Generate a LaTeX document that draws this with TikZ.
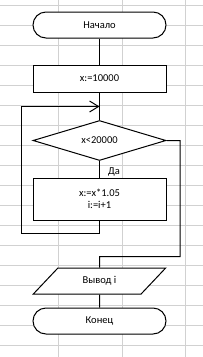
\documentclass[tikz,border=0pt]{standalone}
\usepackage{fontspec}
\setmainfont{Carlito}
\usetikzlibrary{shapes.geometric,arrows.meta}
\begin{document}
\begin{tikzpicture}[x=1pt,y=-1pt,
  gridline/.style={draw=black!18,line width=0.8pt},
  flow/.style={draw=black,fill=white,line width=1pt},
  txt/.style={font=\fontsize{10.5}{11.5}\selectfont},
  term/.style={flow,txt,rectangle,rounded corners=13pt,minimum width=133pt,minimum height=26pt,inner sep=0pt},
  proc/.style={flow,txt,rectangle,minimum width=133pt,inner sep=0pt,align=center},
  decision/.style={flow,txt,diamond,aspect=3.3,minimum width=133pt,minimum height=40pt,inner sep=0pt},
  io/.style={flow,txt,trapezium,trapezium left angle=42,trapezium right angle=138,trapezium stretches=true,minimum width=133pt,minimum height=26pt,inner sep=0pt},
  conn/.style={line width=1pt,draw=black},
  lbl/.style={txt,inner sep=0pt}
]
\useasboundingbox (0,0) rectangle (203,357);
% grid
\foreach \yy in {5,25,...,345} \draw[gridline] (0,\yy) -- (203,\yy);
\foreach \xx in {58,122,185} \draw[gridline] (\xx,0) -- (\xx,357);
% nodes
\node[term] (start) at (99.5,25) {Начало};
\node[proc,minimum height=27pt] (init) at (99.5,78.5) {x:=10000};
\node[decision] (cond) at (99.5,140.5) {x<20000};
\node[proc,minimum height=42pt] (body) at (99.5,199) {x:=x*1.05\\i:=i+1};
\node[io] (out) at (99.5,281) {Вывод i};
\node[term] (stop) at (99.5,321) {Конец};
% helper coordinates
\coordinate (lb) at (99.5,233);
\coordinate (ll) at (21,233);
\coordinate (lt) at (21,106.5);
\coordinate (lm) at (99.5,106.5);
\coordinate (r1) at (180,140.5);
\coordinate (r2) at (180,256.5);
\coordinate (r3) at (99.5,256.5);
% connectors
\draw[conn] (start) -- (init);
\draw[conn] (init) -- (cond);
\draw[conn] (cond) -- node[lbl,pos=0.64,anchor=west,xshift=8pt] {Да} (body);
\draw[conn,-{Straight Barb[length=9pt,width=11pt]}] (body.south) -- (lb) -- (ll) -- (lt) -- (lm);
\draw[conn] (cond.east) -- (r1) -- (r2) -- (r3) -- (out.north);
\draw[conn] (out) -- (stop);
\end{tikzpicture}
\end{document}
